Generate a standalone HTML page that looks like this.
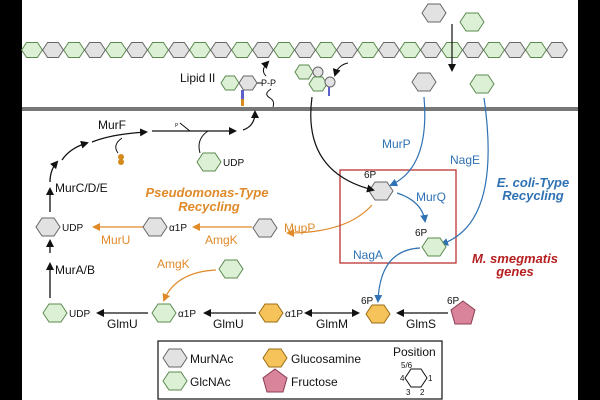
<!DOCTYPE html>
<html><head><meta charset="utf-8"><style>
html,body{margin:0;padding:0;background:#000;}
svg{display:block;font-family:"Liberation Sans",sans-serif;}
</style></head><body>
<svg width="600" height="400" viewBox="0 0 600 400" xmlns="http://www.w3.org/2000/svg">
<defs>
<polygon id="hx" points="-12,0 -6,-9 6,-9 12,0 6,9 -6,9"/>
<polygon id="hc" points="-10.4,0 -5.4,-7.5 5.4,-7.5 10.4,0 5.4,7.5 -5.4,7.5"/>
<polygon id="hs" points="-9,0 -4.5,-7 4.5,-7 9,0 4.5,7 -4.5,7"/>
<polygon id="pt" points="0,-12 12,-3 8,11 -8,11 -12,-3"/>
<marker id="ak" markerWidth="8" markerHeight="8" refX="6" refY="4" orient="auto" markerUnits="userSpaceOnUse"><path d="M0,0 L8,4 L0,8 Z" fill="#111"/></marker>
<marker id="ab" markerWidth="8" markerHeight="8" refX="6" refY="4" orient="auto" markerUnits="userSpaceOnUse"><path d="M0,0 L8,4 L0,8 Z" fill="#2f72b3"/></marker>
<marker id="ao" markerWidth="8" markerHeight="8" refX="6" refY="4" orient="auto" markerUnits="userSpaceOnUse"><path d="M0,0 L8,4 L0,8 Z" fill="#e08a2a"/></marker>
<marker id="aks" markerWidth="8" markerHeight="8" refX="2" refY="4" orient="auto" markerUnits="userSpaceOnUse"><path d="M8,0 L0,4 L8,8 Z" fill="#111"/></marker>
</defs>
<rect x="22" y="0" width="556" height="400" fill="#fff"/>
<!-- chain -->
<g fill="#dcf0d6" stroke="#5c8a4e">
<use href="#hc" x="32" y="50"/><use href="#hc" x="74" y="50"/><use href="#hc" x="116" y="50"/><use href="#hc" x="158" y="50"/><use href="#hc" x="200" y="50"/><use href="#hc" x="242" y="50"/><use href="#hc" x="284" y="50"/><use href="#hc" x="326" y="50"/><use href="#hc" x="368" y="50"/><use href="#hc" x="410" y="50"/><use href="#hc" x="452" y="50"/><use href="#hc" x="494" y="50"/><use href="#hc" x="536" y="50"/>
</g>
<g fill="#e2e2e2" stroke="#666">
<use href="#hc" x="53" y="50"/><use href="#hc" x="95" y="50"/><use href="#hc" x="137" y="50"/><use href="#hc" x="179" y="50"/><use href="#hc" x="221" y="50"/><use href="#hc" x="263" y="50"/><use href="#hc" x="305" y="50"/><use href="#hc" x="347" y="50"/><use href="#hc" x="389" y="50"/><use href="#hc" x="431" y="50"/><use href="#hc" x="473" y="50"/><use href="#hc" x="515" y="50"/><use href="#hc" x="557" y="50"/>
</g>
<!-- membrane -->
<rect x="22" y="107" width="556" height="4" fill="#777"/>
<!-- top free sugars -->
<use href="#hx" x="434" y="13" fill="#e2e2e2" stroke="#666"/>
<use href="#hx" x="472" y="22" fill="#dcf0d6" stroke="#5c8a4e"/>
<line x1="452" y1="24" x2="452" y2="70" stroke="#111" stroke-width="1.2" marker-end="url(#ak)"/>
<use href="#hx" x="424" y="82" fill="#e2e2e2" stroke="#666"/>
<use href="#hx" x="482" y="84" fill="#dcf0d6" stroke="#5c8a4e"/>
<!-- Lipid II -->
<text x="180" y="82" font-size="12" fill="#111">Lipid II</text>
<use href="#hs" x="230" y="83" fill="#dcf0d6" stroke="#5c8a4e"/>
<use href="#hs" x="248" y="83" fill="#e2e2e2" stroke="#666"/>
<line x1="257" y1="83" x2="262" y2="83" stroke="#111"/>
<text x="261" y="86" font-size="9" fill="#111">P-P</text>
<rect x="241" y="90" width="3" height="9" fill="#5b5fc7"/><rect x="241" y="99" width="3" height="7" fill="#d58a1c"/>
<path d="M271,89 q-8,5 -1,9 q5,3 3,9" fill="none" stroke="#111"/>
<path d="M243,130 q12,-4 12,-18" fill="none" stroke="#111" stroke-width="1.2" marker-end="url(#ak)"/>
<path d="M266,76 q-6,-6 2,-14" fill="none" stroke="#111" marker-end="url(#ak)"/>
<!-- degrading -->
<use href="#hs" x="304" y="72" fill="#dcf0d6" stroke="#5c8a4e"/>
<circle cx="318" cy="72" r="5" fill="#e2e2e2" stroke="#666"/>
<use href="#hs" x="318" y="84" fill="#dcf0d6" stroke="#5c8a4e"/>
<circle cx="330" cy="82" r="5" fill="#e2e2e2" stroke="#666"/>
<rect x="328" y="87" width="2" height="9" fill="#5b5fc7"/>
<path d="M348,63 q-10,2 -13,12" fill="none" stroke="#111" marker-end="url(#ak)"/>
<!-- left pathway -->
<text x="98" y="129" font-size="12" fill="#111">MurF</text>
<path d="M92,142 q20,-8 54,-10" fill="none" stroke="#111" stroke-width="1.3" marker-end="url(#ak)"/>
<path d="M62,160 q8,-12 25,-17" fill="none" stroke="#111" stroke-width="1.3" marker-end="url(#ak)"/>
<path d="M50,182 q0,-12 7,-20" fill="none" stroke="#111" stroke-width="1.3" marker-end="url(#ak)"/>
<path d="M118,153 q-6,-8 4,-15" fill="none" stroke="#111"/>
<circle cx="121" cy="157" r="3" fill="#d58a1c"/><circle cx="121" cy="162" r="3" fill="#d58a1c"/>
<line x1="152" y1="131" x2="235" y2="131" stroke="#111" stroke-width="1.3" marker-end="url(#ak)"/>
<path d="M180,123 q6,5 10,8" fill="none" stroke="#111"/><text x="175" y="127" font-size="5" fill="#111">P</text>
<path d="M200,153 q-4,-14 8,-22" fill="none" stroke="#111"/>
<use href="#hx" x="209" y="162" fill="#dcf0d6" stroke="#5c8a4e"/>
<text x="223" y="166" font-size="10" fill="#111">UDP</text>
<text x="55" y="192" font-size="12" fill="#111">MurC/D/E</text>
<line x1="50" y1="212" x2="50" y2="189" stroke="#111" stroke-width="1.3" marker-end="url(#ak)"/>
<!-- Pseudomonas -->
<text x="207" y="197" font-size="13" font-weight="bold" font-style="italic" fill="#e08a2a" text-anchor="middle">Pseudomonas-Type</text>
<text x="209" y="211" font-size="13" font-weight="bold" font-style="italic" fill="#e08a2a" text-anchor="middle">Recycling</text>
<use href="#hx" x="48" y="227" fill="#e2e2e2" stroke="#666"/>
<text x="62" y="231" font-size="10" fill="#111">UDP</text>
<line x1="143" y1="227" x2="94" y2="227" stroke="#e08a2a" stroke-width="1.3" marker-end="url(#ao)"/>
<text x="101" y="244" font-size="12" fill="#e08a2a">MurU</text>
<use href="#hx" x="155" y="227" fill="#e2e2e2" stroke="#666"/>
<text x="169" y="231" font-size="10" fill="#111">α1P</text>
<line x1="252" y1="227" x2="194" y2="227" stroke="#e08a2a" stroke-width="1.3" marker-end="url(#ao)"/>
<text x="205" y="244" font-size="12" fill="#e08a2a">AmgK</text>
<use href="#hx" x="265" y="228" fill="#e2e2e2" stroke="#666"/>
<path d="M372,205 q-25,28 -84,28" fill="none" stroke="#e08a2a" stroke-width="1.2" marker-end="url(#ao)"/>
<text x="284" y="232" font-size="12" fill="#e08a2a">MupP</text>
<text x="55" y="274" font-size="12" fill="#111">MurA/B</text>
<line x1="50" y1="253" x2="50" y2="241" stroke="#111" stroke-width="1.3" marker-end="url(#ak)"/>
<line x1="50" y1="298" x2="50" y2="264" stroke="#111" stroke-width="1.3" marker-end="url(#ak)"/>
<!-- AmgK lower -->
<text x="157" y="268" font-size="12" fill="#e08a2a">AmgK</text>
<use href="#hx" x="231" y="269" fill="#dcf0d6" stroke="#5c8a4e"/>
<path d="M216,270 q-40,2 -52,30" fill="none" stroke="#e08a2a" stroke-width="1.2" marker-end="url(#ao)"/>
<!-- bottom row -->
<use href="#hx" x="55" y="313" fill="#dcf0d6" stroke="#5c8a4e"/>
<text x="69" y="317" font-size="10" fill="#111">UDP</text>
<line x1="148" y1="313" x2="98" y2="313" stroke="#111" stroke-width="1.3" marker-end="url(#ak)"/>
<text x="107" y="328" font-size="12" fill="#111">GlmU</text>
<use href="#hx" x="164" y="313" fill="#dcf0d6" stroke="#5c8a4e"/>
<text x="178" y="317" font-size="10" fill="#111">α1P</text>
<line x1="256" y1="313" x2="205" y2="313" stroke="#111" stroke-width="1.3" marker-end="url(#ak)"/>
<text x="213" y="328" font-size="12" fill="#111">GlmU</text>
<use href="#hx" x="271" y="313" fill="#f6c25a" stroke="#9a6d14"/>
<text x="285" y="317" font-size="10" fill="#111">α1P</text>
<line x1="306" y1="313" x2="358" y2="313" stroke="#111" stroke-width="1.3" marker-end="url(#ak)" marker-start="url(#aks)"/>
<text x="316" y="328" font-size="12" fill="#111">GlmM</text>
<use href="#hx" x="378" y="314" fill="#f6c25a" stroke="#9a6d14"/>
<text x="361" y="304" font-size="10" fill="#111">6P</text>
<line x1="448" y1="313" x2="398" y2="313" stroke="#111" stroke-width="1.3" marker-end="url(#ak)"/>
<text x="406" y="328" font-size="12" fill="#111">GlmS</text>
<use href="#pt" x="463" y="313" fill="#d9849a" stroke="#8a3e52"/>
<text x="447" y="304" font-size="10" fill="#111">6P</text>
<!-- red box -->
<rect x="340" y="170" width="116" height="93" fill="none" stroke="#b33" stroke-width="1.3"/>
<use href="#hx" x="381" y="191" fill="#e2e2e2" stroke="#666"/>
<text x="364" y="178" font-size="10" fill="#111">6P</text>
<path d="M312,97 q-10,75 61,93" fill="none" stroke="#111" stroke-width="1.2" marker-end="url(#ak)"/>
<path d="M424,97 q6,70 -33,88" fill="none" stroke="#2f72b3" stroke-width="1.2" marker-end="url(#ab)"/>
<text x="382" y="148" font-size="12" fill="#2f72b3">MurP</text>
<path d="M484,98 q18,125 -42,146" fill="none" stroke="#2f72b3" stroke-width="1.2" marker-end="url(#ab)"/>
<text x="450" y="164" font-size="12" fill="#2f72b3">NagE</text>
<path d="M397,193 q25,8 28,28" fill="none" stroke="#2f72b3" stroke-width="1.2" marker-end="url(#ab)"/>
<text x="416" y="201" font-size="12" fill="#2f72b3">MurQ</text>
<text x="415" y="236" font-size="10" fill="#111">6P</text>
<use href="#hx" x="434" y="247" fill="#dcf0d6" stroke="#5c8a4e"/>
<text x="353" y="259" font-size="12" fill="#2f72b3">NagA</text>
<path d="M420,248 q-40,2 -42,53" fill="none" stroke="#2f72b3" stroke-width="1.2" marker-end="url(#ab)"/>
<text x="533" y="187" font-size="13" font-weight="bold" font-style="italic" fill="#2f72b3" text-anchor="middle">E. coli-Type</text>
<text x="533" y="200" font-size="13" font-weight="bold" font-style="italic" fill="#2f72b3" text-anchor="middle">Recycling</text>
<text x="515" y="263" font-size="13" font-weight="bold" font-style="italic" fill="#b52020" text-anchor="middle">M. smegmatis</text>
<text x="515" y="276" font-size="13" font-weight="bold" font-style="italic" fill="#b52020" text-anchor="middle">genes</text>
<!-- legend -->
<rect x="158" y="341" width="284" height="58" fill="#fff" stroke="#111" stroke-width="1.2"/>
<use href="#hx" x="175" y="358" fill="#e2e2e2" stroke="#666"/>
<text x="190" y="363" font-size="12" fill="#111">MurNAc</text>
<use href="#hx" x="175" y="381" fill="#dcf0d6" stroke="#5c8a4e"/>
<text x="190" y="386" font-size="12" fill="#111">GlcNAc</text>
<use href="#hx" x="275" y="358" fill="#f6c25a" stroke="#9a6d14"/>
<text x="291" y="363" font-size="12" fill="#111">Glucosamine</text>
<use href="#pt" x="275" y="381" fill="#d9849a" stroke="#8a3e52"/>
<text x="291" y="386" font-size="12" fill="#111">Fructose</text>
<text x="393" y="356" font-size="12" fill="#111">Position</text>
<polygon points="405,378 411,369 421,369 427,378 421,387 411,387" fill="none" stroke="#111"/>
<text x="401" y="368" font-size="8" fill="#111">5/6</text>
<text x="400" y="381" font-size="8" fill="#111">4</text>
<text x="428" y="381" font-size="8" fill="#111">1</text>
<text x="406" y="395" font-size="8" fill="#111">3</text>
<text x="420" y="395" font-size="8" fill="#111">2</text>
</svg>
</body></html>
